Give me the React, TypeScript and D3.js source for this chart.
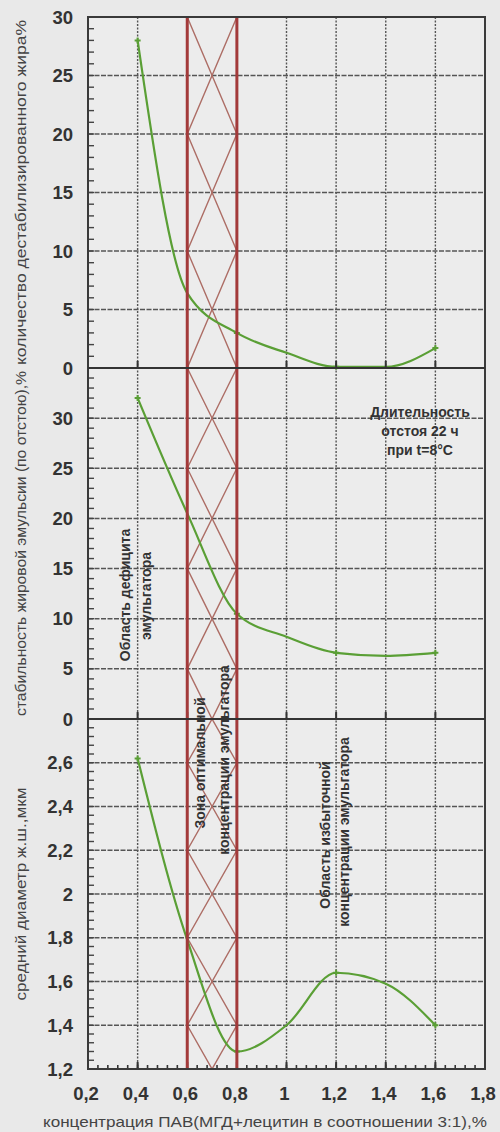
import React from 'react';
import * as d3 from 'd3';

// concentration of surfactant, %
const xTicks = [0.2, 0.4, 0.6, 0.8, 1.0, 1.2, 1.4, 1.6, 1.8];
const xData = [0.4, 0.6, 0.8, 1.0, 1.2, 1.4, 1.6];
const markerX = [0.4, 0.8, 1.2, 1.6];

// panel series
const fatValues = [28, 6.4, 3.0, 1.3, 0.1, 0.1, 1.7];
const stabilityValues = [32, 20.5, 10.5, 8.2, 6.6, 6.3, 6.6];
const diameterValues = [2.62, 1.79, 1.28, 1.4, 1.64, 1.59, 1.4];

// y tick labels per panel
const fatTicks = [0, 5, 10, 15, 20, 25, 30];
const stabilityTicks = [0, 5, 10, 15, 20, 25, 30];
const diameterTicks = [1.2, 1.4, 1.6, 1.8, 2.0, 2.2, 2.4, 2.6];

const yTitles = [
  'количество дестабилизированного жира%',
  'стабильность жировой эмульсии (по отстою),%',
  'средний диаметр ж.ш.,мкм',
];
const xTitle = 'концентрация ПАВ(МГД+лецитин в соотношении 3:1),%';
const zoneX = [0.6, 0.8];

const W = 500;
const H = 1132;
const left = 88;
const right = 485;
const top = 17;
const bottom = 1069;
const sep = [368, 719];

const x = d3.scaleLinear().domain([0.2, 1.8]).range([left, right]);

const fmt = (v: number) => String(+v.toFixed(2)).replace('.', ',');

const panels = [
  {
    y: d3.scaleLinear().domain([0, 30]).range([sep[0], top]),
    values: fatValues, ticks: fatTicks, minor: 1, hatchStart: 30, hatchStep: 10,
    title: yTitles[0], titleLen: 345,
  },
  {
    y: d3.scaleLinear().domain([0, 35]).range([sep[1], sep[0]]),
    values: stabilityValues, ticks: stabilityTicks, minor: 1, hatchStart: 35, hatchStep: 10,
    title: yTitles[1], titleLen: 345,
  },
  {
    y: d3.scaleLinear().domain([1.2, 2.8]).range([bottom, sep[1]]),
    values: diameterValues, ticks: diameterTicks, minor: 0.04, hatchStart: 3.0, hatchStep: 0.4,
    title: yTitles[2], titleLen: 213,
  },
];

const green = '#5a9f35';
const grid = '#555';

export default function App() {
  const line = (yS: d3.ScaleLinear<number, number>) =>
    d3.line<number>()
      .x((_, i) => x(xData[i]))
      .y(d => yS(d))
      .curve(d3.curveMonotoneX);

  return (
    <svg width={W} height={H} style={{ position: 'absolute', left: 0, top: 0, background: '#e9e9e9' }}
      fontFamily="'Liberation Sans', Arial, sans-serif">
      <defs>
        {panels.map((p, i) => (
          <clipPath id={`clip${i}`} key={i}>
            <rect x={x(zoneX[0])} y={p.y.range()[1]} width={x(zoneX[1]) - x(zoneX[0])}
              height={p.y.range()[0] - p.y.range()[1]} />
          </clipPath>
        ))}
      </defs>
      <rect x={left} y={top} width={right - left} height={bottom - top} fill="#ececec" />

      {/* vertical grid */}
      {xTicks.slice(1, -1).map(t => (
        <line key={`vg${t}`} x1={x(t)} x2={x(t)} y1={top} y2={bottom} stroke={grid} strokeWidth={1.4} strokeDasharray="2,1.5" />
      ))}

      {panels.map((p, i) => {
        const [y0, y1] = p.y.range();
        const [d0, d1] = p.y.domain();
        const minors = d3.range(d0, d1 + 1e-9, p.minor);
        const n = Math.ceil((p.hatchStart - d0) / p.hatchStep) + 1;
        const zig = (startLeft: boolean) =>
          d3.range(n).map(k => [
            x(zoneX[(k % 2 === 0) === startLeft ? 0 : 1]),
            p.y(p.hatchStart - k * p.hatchStep),
          ] as [number, number]);
        return (
          <g key={i}>
            {p.ticks.filter(t => p.y(t) > y1 + 2 && p.y(t) < y0 - 2).map(t => (
              <line key={`hg${t}`} x1={left} x2={right} y1={p.y(t)} y2={p.y(t)} stroke={grid} strokeWidth={1.5} strokeDasharray="5,1.5" />
            ))}
            {minors.map(m => (
              <line key={`mt${m}`} x1={left} x2={left + 6} y1={p.y(m)} y2={p.y(m)} stroke="#444" strokeWidth={1.4} />
            ))}
            <g clipPath={`url(#clip${i})`}>
              <path d={d3.line()(zig(true)) ?? ''} fill="none" stroke="#ad6e66" strokeWidth={1.4} />
              <path d={d3.line()(zig(false)) ?? ''} fill="none" stroke="#ad6e66" strokeWidth={1.4} />
            </g>
            <path d={line(p.y)(p.values) ?? ''} fill="none" stroke={green} strokeWidth={2.2} />
            {markerX.map(mx => {
              const v = p.values[xData.indexOf(mx)];
              return (
                <path key={mx} d={`M${x(mx) - 3},${p.y(v)}h6M${x(mx)},${p.y(v) - 3}v6`} stroke={green} strokeWidth={2} />
              );
            })}
            {p.ticks.map(t => (
              <text key={t} x={73} y={p.y(t) + 6.5} textAnchor="end" fontSize={18.5} fontWeight="bold" fill="#333">
                {fmt(t)}
              </text>
            ))}
            <text transform={`translate(26,${(y0 + y1) / 2}) rotate(-90)`} textAnchor="middle" fontSize={15.5}
              fill="#444" textLength={p.titleLen} lengthAdjust="spacingAndGlyphs">
              {p.title}
            </text>
          </g>
        );
      })}

      {/* ticks at panel boundaries and bottom */}
      {[...sep, bottom].map(yy => xTicks.slice(1, -1).map(t => (
        <line key={`${yy}-${t}`} x1={x(t)} x2={x(t)} y1={yy - 7} y2={yy} stroke="#333" strokeWidth={2} />
      )))}
      {d3.range(0.2, 1.8, 0.04).map(t => (
        <line key={`bt${t}`} x1={x(t)} x2={x(t)} y1={bottom - 4} y2={bottom} stroke="#333" strokeWidth={1.6} />
      ))}

      {/* zone borders */}
      {zoneX.map(z => (
        <line key={z} x1={x(z)} x2={x(z)} y1={top} y2={bottom} stroke="#a33a3a" strokeWidth={3} />
      ))}

      {/* frame and panel separators */}
      <rect x={left} y={top} width={right - left} height={bottom - top} fill="none" stroke="#3a3a3a" strokeWidth={2} />
      {sep.map(s => (
        <line key={s} x1={left} x2={right} y1={s} y2={s} stroke="#333" strokeWidth={2} />
      ))}

      {/* x axis labels */}
      {xTicks.map(t => (
        <text key={t} x={x(t) - 2} y={1100} textAnchor="middle" fontSize={18.5} fontWeight="bold" fill="#333">
          {fmt(t)}
        </text>
      ))}
      <text x={265} y={1127} textAnchor="middle" fontSize={15} fill="#444" textLength={444} lengthAdjust="spacingAndGlyphs">
        {xTitle}
      </text>

      {/* annotations */}
      <g fontSize={14} fontWeight="bold" fill="#333" textAnchor="middle">
        <text x={420} y={417}>Длительность</text>
        <text x={420} y={436}>отстоя 22 ч</text>
        <text x={420} y={455}>при t=8°C</text>

        <text transform={`translate(130,595) rotate(-90)`}>Область дефицита</text>
        <text transform={`translate(151,596) rotate(-90)`}>эмульгатора</text>

        <text transform={`translate(205,763) rotate(-90)`}>Зона оптимальной</text>
        <text transform={`translate(229,760) rotate(-90)`}>концентрации эмульгатора</text>

        <text transform={`translate(330,835) rotate(-90)`}>Область избыточной</text>
        <text transform={`translate(349,832) rotate(-90)`}>концентрации эмульгатора</text>
      </g>
    </svg>
  );
}
